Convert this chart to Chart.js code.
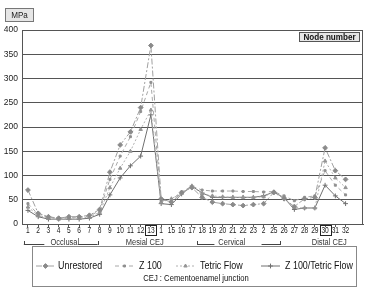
<!DOCTYPE html>
<html>
<head>
<meta charset="utf-8">
<script src="https://cdn.jsdelivr.net/npm/chart.js@4/dist/chart.umd.min.js"></script>
<style>
html,body{margin:0;padding:0;background:#fff;}
#wrap{width:368px;height:294px;position:relative;}
</style>
</head>
<body>
<div id="wrap"><canvas id="c" width="368" height="294"></canvas></div>
<script>
const nodeLabels = ['1','2','3','4','5','6','7','8','9','10','11','12','13','1','15','16','17','18','19','20','21','22','23','2','25','26','27','28','29','30','31','32'];
const boxedNodes = [13, 30];
const unrestored = [70,22,15,12,15,15,18,30,107,163,190,240,368,52,45,65,75,55,45,42,40,38,40,42,65,52,36,52,55,157,110,92];
const z100       = [42,20,14,12,14,14,16,28,92,140,180,232,292,48,50,66,78,70,68,68,68,67,67,66,67,58,48,55,58,110,80,60];
const tetricFlow = [35,18,12,10,12,12,14,24,75,115,150,195,235,45,52,64,78,62,58,56,55,55,55,56,66,54,34,33,33,130,95,75];
const z100Tetric = [28,15,10,10,10,10,12,20,60,95,120,140,225,42,40,62,78,64,55,55,55,55,55,58,66,54,30,33,33,80,58,42];
const yTicks = [0,50,100,150,200,250,300,350,400];
const groups = [
  {name:'Occlusal', at:4.6, brackets:[[0.6,2.6,'L'],[5.9,7.8,'R']]},
  {name:'Mesial CEJ', at:12.4},
  {name:'Cervical', at:20.9, brackets:[[17.5,19.2,'L'],[23.8,25.6,'R']]},
  {name:'Distal CEJ', at:30.4}
];
const seriesNames = ['Unrestored','Z 100','Tetric Flow','Z 100/Tetric Flow'];
const noteText = 'CEJ : Cementoenamel junction';

const FONT = "'Liberation Sans',Arial,sans-serif";
const toXY = arr => arr.map((v,i)=>({x:i+1,y:v}));

const styles = [
  {border:'#a0a0a0', point:'#8a8a8a', dash:[6,2,2,2], ps:'rectRot', pr:2.4, w:1},
  {border:'#a8a8a8', point:'#909090', dash:[4,3], ps:'rect', pr:1.4, w:1},
  {border:'#b0b0b0', point:'#959595', dash:[2,2], ps:'triangle', pr:2, w:1},
  {border:'#707070', point:'#707070', dash:[], ps:'cross', pr:2.4, w:1}
];
const allData = [unrestored, z100, tetricFlow, z100Tetric];

const datasets = allData.map((d,i)=>({
  label: seriesNames[i],
  data: toXY(d),
  borderColor: styles[i].border,
  borderWidth: styles[i].w,
  borderDash: styles[i].dash,
  pointStyle: styles[i].ps,
  pointRadius: styles[i].pr,
  pointBackgroundColor: styles[i].point,
  pointBorderColor: styles[i].point,
  pointBorderWidth: 1,
  tension: 0,
  fill: false
}));

function narrowText(ctx, txt, x, y, sx, align){
  ctx.save();
  ctx.translate(x, y);
  ctx.scale(sx, 1);
  ctx.textAlign = align;
  ctx.fillText(txt, 0, 0);
  ctx.restore();
}

const decor = {
  id:'decor',
  afterDraw(chart){
    const ctx = chart.ctx;
    const xs = chart.scales.x;
    const ca = chart.chartArea;
    ctx.save();
    ctx.strokeStyle = '#555'; ctx.lineWidth = 1; ctx.setLineDash([]);
    ctx.beginPath();
    ctx.moveTo(ca.left, ca.top+0.5); ctx.lineTo(ca.right-0.5, ca.top+0.5); ctx.lineTo(ca.right-0.5, ca.bottom);
    ctx.stroke();
    // MPa box
    ctx.fillStyle = '#e6e6e6'; ctx.fillRect(5,8,29,14);
    ctx.strokeStyle = '#777'; ctx.strokeRect(5.5,8.5,28,13);
    ctx.fillStyle = '#222'; ctx.font = "9px " + FONT; ctx.textBaseline='middle';
    narrowText(ctx, 'MPa', 19.5, 15.5, 0.9, 'center');
    // Node number box
    ctx.fillStyle = '#e6e6e6'; ctx.fillRect(299,32,61,10);
    ctx.strokeStyle = '#555'; ctx.strokeRect(299.5,32.5,60,9);
    ctx.fillStyle = '#111'; ctx.font = "bold 9px " + FONT;
    narrowText(ctx, 'Node number', 329.5, 37.5, 0.9, 'center');
    // x tick labels
    ctx.fillStyle = '#222'; ctx.font = "8.5px " + FONT;
    nodeLabels.forEach((l,i)=>{
      narrowText(ctx, l, xs.getPixelForValue(i+1), 231, 0.78, 'center');
    });
    // boxed tick labels
    ctx.strokeStyle = '#222';
    boxedNodes.forEach(n=>{
      const x = xs.getPixelForValue(n);
      ctx.strokeRect(Math.round(x-5.5)+0.5, 225.5, 11, 10);
    });
    // group labels
    ctx.fillStyle = '#333'; ctx.font = "8.5px " + FONT;
    ctx.strokeStyle = '#444';
    groups.forEach(g=>{
      narrowText(ctx, g.name, xs.getPixelForValue(g.at), 243, 0.88, 'center');
      (g.brackets||[]).forEach(b=>{
        const x1 = xs.getPixelForValue(b[0]), x2 = xs.getPixelForValue(b[1]);
        ctx.beginPath();
        ctx.moveTo(x1, 244.5); ctx.lineTo(x2, 244.5);
        const vx = b[2]==='L' ? x1 : x2;
        ctx.moveTo(Math.round(vx)+0.5, 241); ctx.lineTo(Math.round(vx)+0.5, 245);
        ctx.stroke();
      });
    });
    // legend
    ctx.strokeStyle = '#888'; ctx.lineWidth=1;
    ctx.strokeRect(32.5, 246.5, 324, 40);
    const items = [[36,58],[115,139],[176,200],[261,285]];
    ctx.font = "10.5px " + FONT;
    items.forEach((it,i)=>{
      const st = styles[i];
      const y = 266;
      ctx.strokeStyle = st.border; ctx.lineWidth = 1; ctx.setLineDash(st.dash);
      ctx.beginPath(); ctx.moveTo(it[0], y); ctx.lineTo(it[0]+19, y); ctx.stroke();
      ctx.setLineDash([]);
      ctx.fillStyle = st.point; ctx.strokeStyle = st.point;
      Chart.helpers.drawPoint(ctx, {pointStyle: st.ps, radius: st.pr, borderWidth:1}, it[0]+9.5, y);
      ctx.fillStyle='#111';
      narrowText(ctx, seriesNames[i], it[1], y+0.5, 0.85, 'left');
    });
    ctx.font = "8.5px " + FONT; ctx.fillStyle='#111';
    narrowText(ctx, noteText, 196, 279, 0.9, 'center');
    ctx.restore();
  }
};

new Chart(document.getElementById('c'), {
  type:'line',
  data:{datasets},
  options:{
    responsive:false,
    animation:false,
    events:[],
    layout:{padding:{top:30,right:4,left:0,bottom:0}},
    plugins:{legend:{display:false},tooltip:{enabled:false},title:{display:false}},
    scales:{
      x:{
        type:'linear', min:0.42, max:33.7,
        afterBuildTicks(s){ s.ticks = nodeLabels.map((_,i)=>({value:i+1})); },
        afterFit(s){ s.height = 70; },
        ticks:{ display:false },
        grid:{ drawOnChartArea:false, drawTicks:true, tickLength:3, color:'#555' },
        border:{ color:'#555', width:1 }
      },
      y:{
        min:0, max:400,
        afterBuildTicks(s){ s.ticks = yTicks.map(v=>({value:v})); },
        afterFit(s){ s.width = 22; },
        ticks:{ padding:4, color:'#222', font:{family:FONT,size:8.5} },
        grid:{ color:'#555', lineWidth:1, drawTicks:false },
        border:{ color:'#555', width:1 }
      }
    }
  },
  plugins:[decor]
});
</script>
</body>
</html>
